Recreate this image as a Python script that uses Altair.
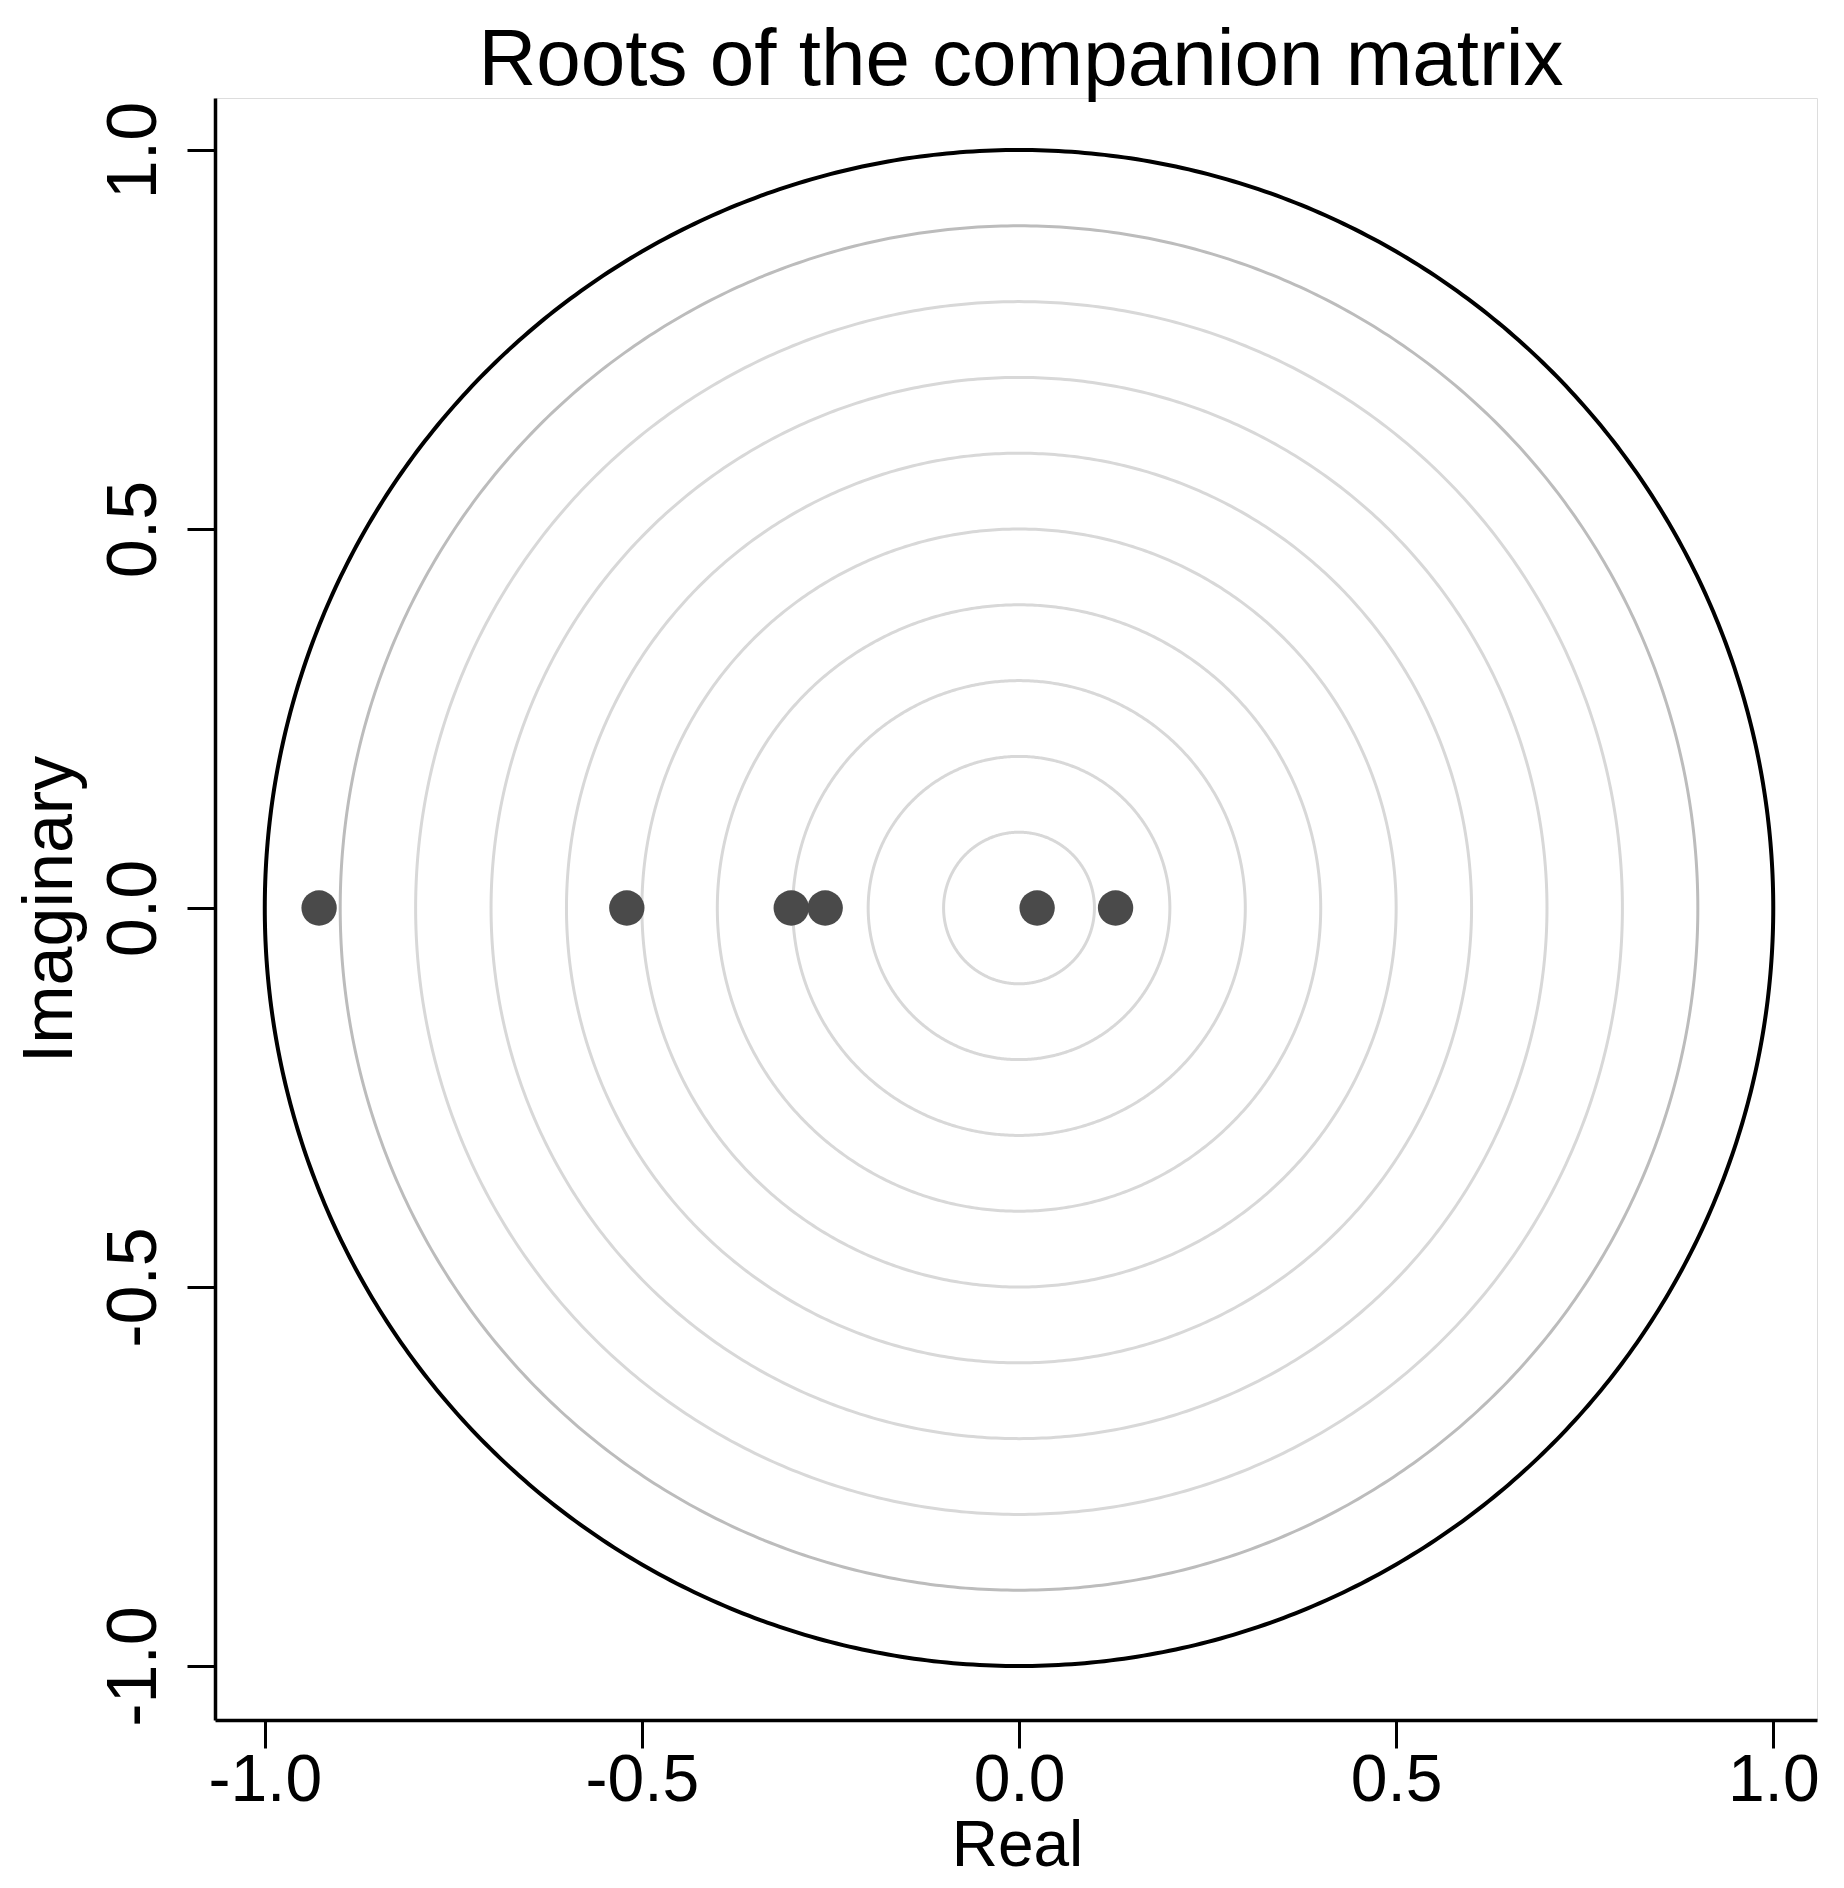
import altair as alt
import numpy as np
import pandas as pd

# ---- data ----
chart_title = "Roots of the companion matrix"
x_title = "Real"
y_title = "Imaginary"
root_real = [-0.928, -0.52, -0.302, -0.257, 0.024, 0.128]
root_imag = [0.0, 0.0, 0.0, 0.0, 0.0, 0.0]
inner_radii = [0.1, 0.2, 0.3, 0.4, 0.5, 0.6, 0.7, 0.8]
outer_grey_radii = [0.9]
unit_radii = [1.0]
tick_values = [-1.0, -0.5, 0.0, 0.5, 1.0]

theta = np.linspace(0.0, 2.0 * np.pi, 721)


def ring_frame(radii):
    rows = []
    for r in radii:
        for i, t in enumerate(theta):
            rows.append({"r": r, "i": i, "x": r * np.cos(t), "y": r * np.sin(t)})
    return pd.DataFrame(rows)


roots = pd.DataFrame({"x": root_real, "y": root_imag})

FONT = "Liberation Sans"
LABEL_EXPR = "datum.value < 0 ? '-' + format(-datum.value, '.1f') : format(datum.value, '.1f')"

xs = alt.Scale(domain=[-1.066, 1.058], nice=False, zero=False)
ys = alt.Scale(domain=[-1.0712, 1.0686], nice=False, zero=False)

x_axis = alt.Axis(
    values=tick_values, labelExpr=LABEL_EXPR, title=x_title, grid=False,
    domainColor="black", domainWidth=3.5, tickColor="black", tickWidth=3, tickSize=28,
    labelFont=FONT, labelFontSize=66, labelColor="black", labelPadding=52,
    labelBaseline="alphabetic", labelFlush=False, labelOverlap=False,
    titleFont=FONT, titleFontSize=64, titleFontWeight="normal", titleColor="black",
    titleX=802, titleY=145, titleBaseline="alphabetic", titleAlign="center",
)
y_axis = alt.Axis(
    values=tick_values, labelExpr=LABEL_EXPR, title=y_title, grid=False,
    domainColor="black", domainWidth=3.5, tickColor="black", tickWidth=3, tickSize=28,
    labelFont=FONT, labelFontSize=70, labelColor="black", labelPadding=32,
    labelAngle=270, labelAlign="center", labelBaseline="alphabetic",
    labelFlush=False, labelOverlap=False,
    titleFont=FONT, titleFontSize=70, titleFontWeight="normal", titleColor="black",
    titleAngle=270, titleX=-144, titleY=811, titleBaseline="alphabetic", titleAlign="center",
)


def enc(chart):
    return chart.encode(
        x=alt.X("x:Q", scale=xs, axis=x_axis),
        y=alt.Y("y:Q", scale=ys, axis=y_axis),
    )


inner = enc(alt.Chart(ring_frame(inner_radii)).mark_line(
    color="#d8d8d8", strokeWidth=3, clip=True)).encode(detail="r:N", order="i:Q")
ring9 = enc(alt.Chart(ring_frame(outer_grey_radii)).mark_line(
    color="#bcbcbc", strokeWidth=3, clip=True)).encode(detail="r:N", order="i:Q")
unit = enc(alt.Chart(ring_frame(unit_radii)).mark_line(
    color="black", strokeWidth=4, clip=True)).encode(detail="r:N", order="i:Q")
points = enc(alt.Chart(roots).mark_point(
    shape="circle", filled=True, size=1250, color="#4a4a4a", opacity=1))

chart = alt.layer(inner, ring9, unit, points).properties(
    width=1602,
    height=1622,
    autosize=alt.AutoSizeParams(type="none"),
    padding={"left": 207, "top": 90, "right": 10, "bottom": 160},
    title=alt.TitleParams(
        chart_title, font=FONT, fontSize=80, fontWeight="normal", color="black",
        anchor="middle", frame="group", offset=-4, dx=5,
    ),
).configure_view(stroke="transparent", strokeWidth=0, strokeOpacity=0).configure(background="white")

chart.save("out.html", embed_options={"renderer": "svg", "actions": False})
